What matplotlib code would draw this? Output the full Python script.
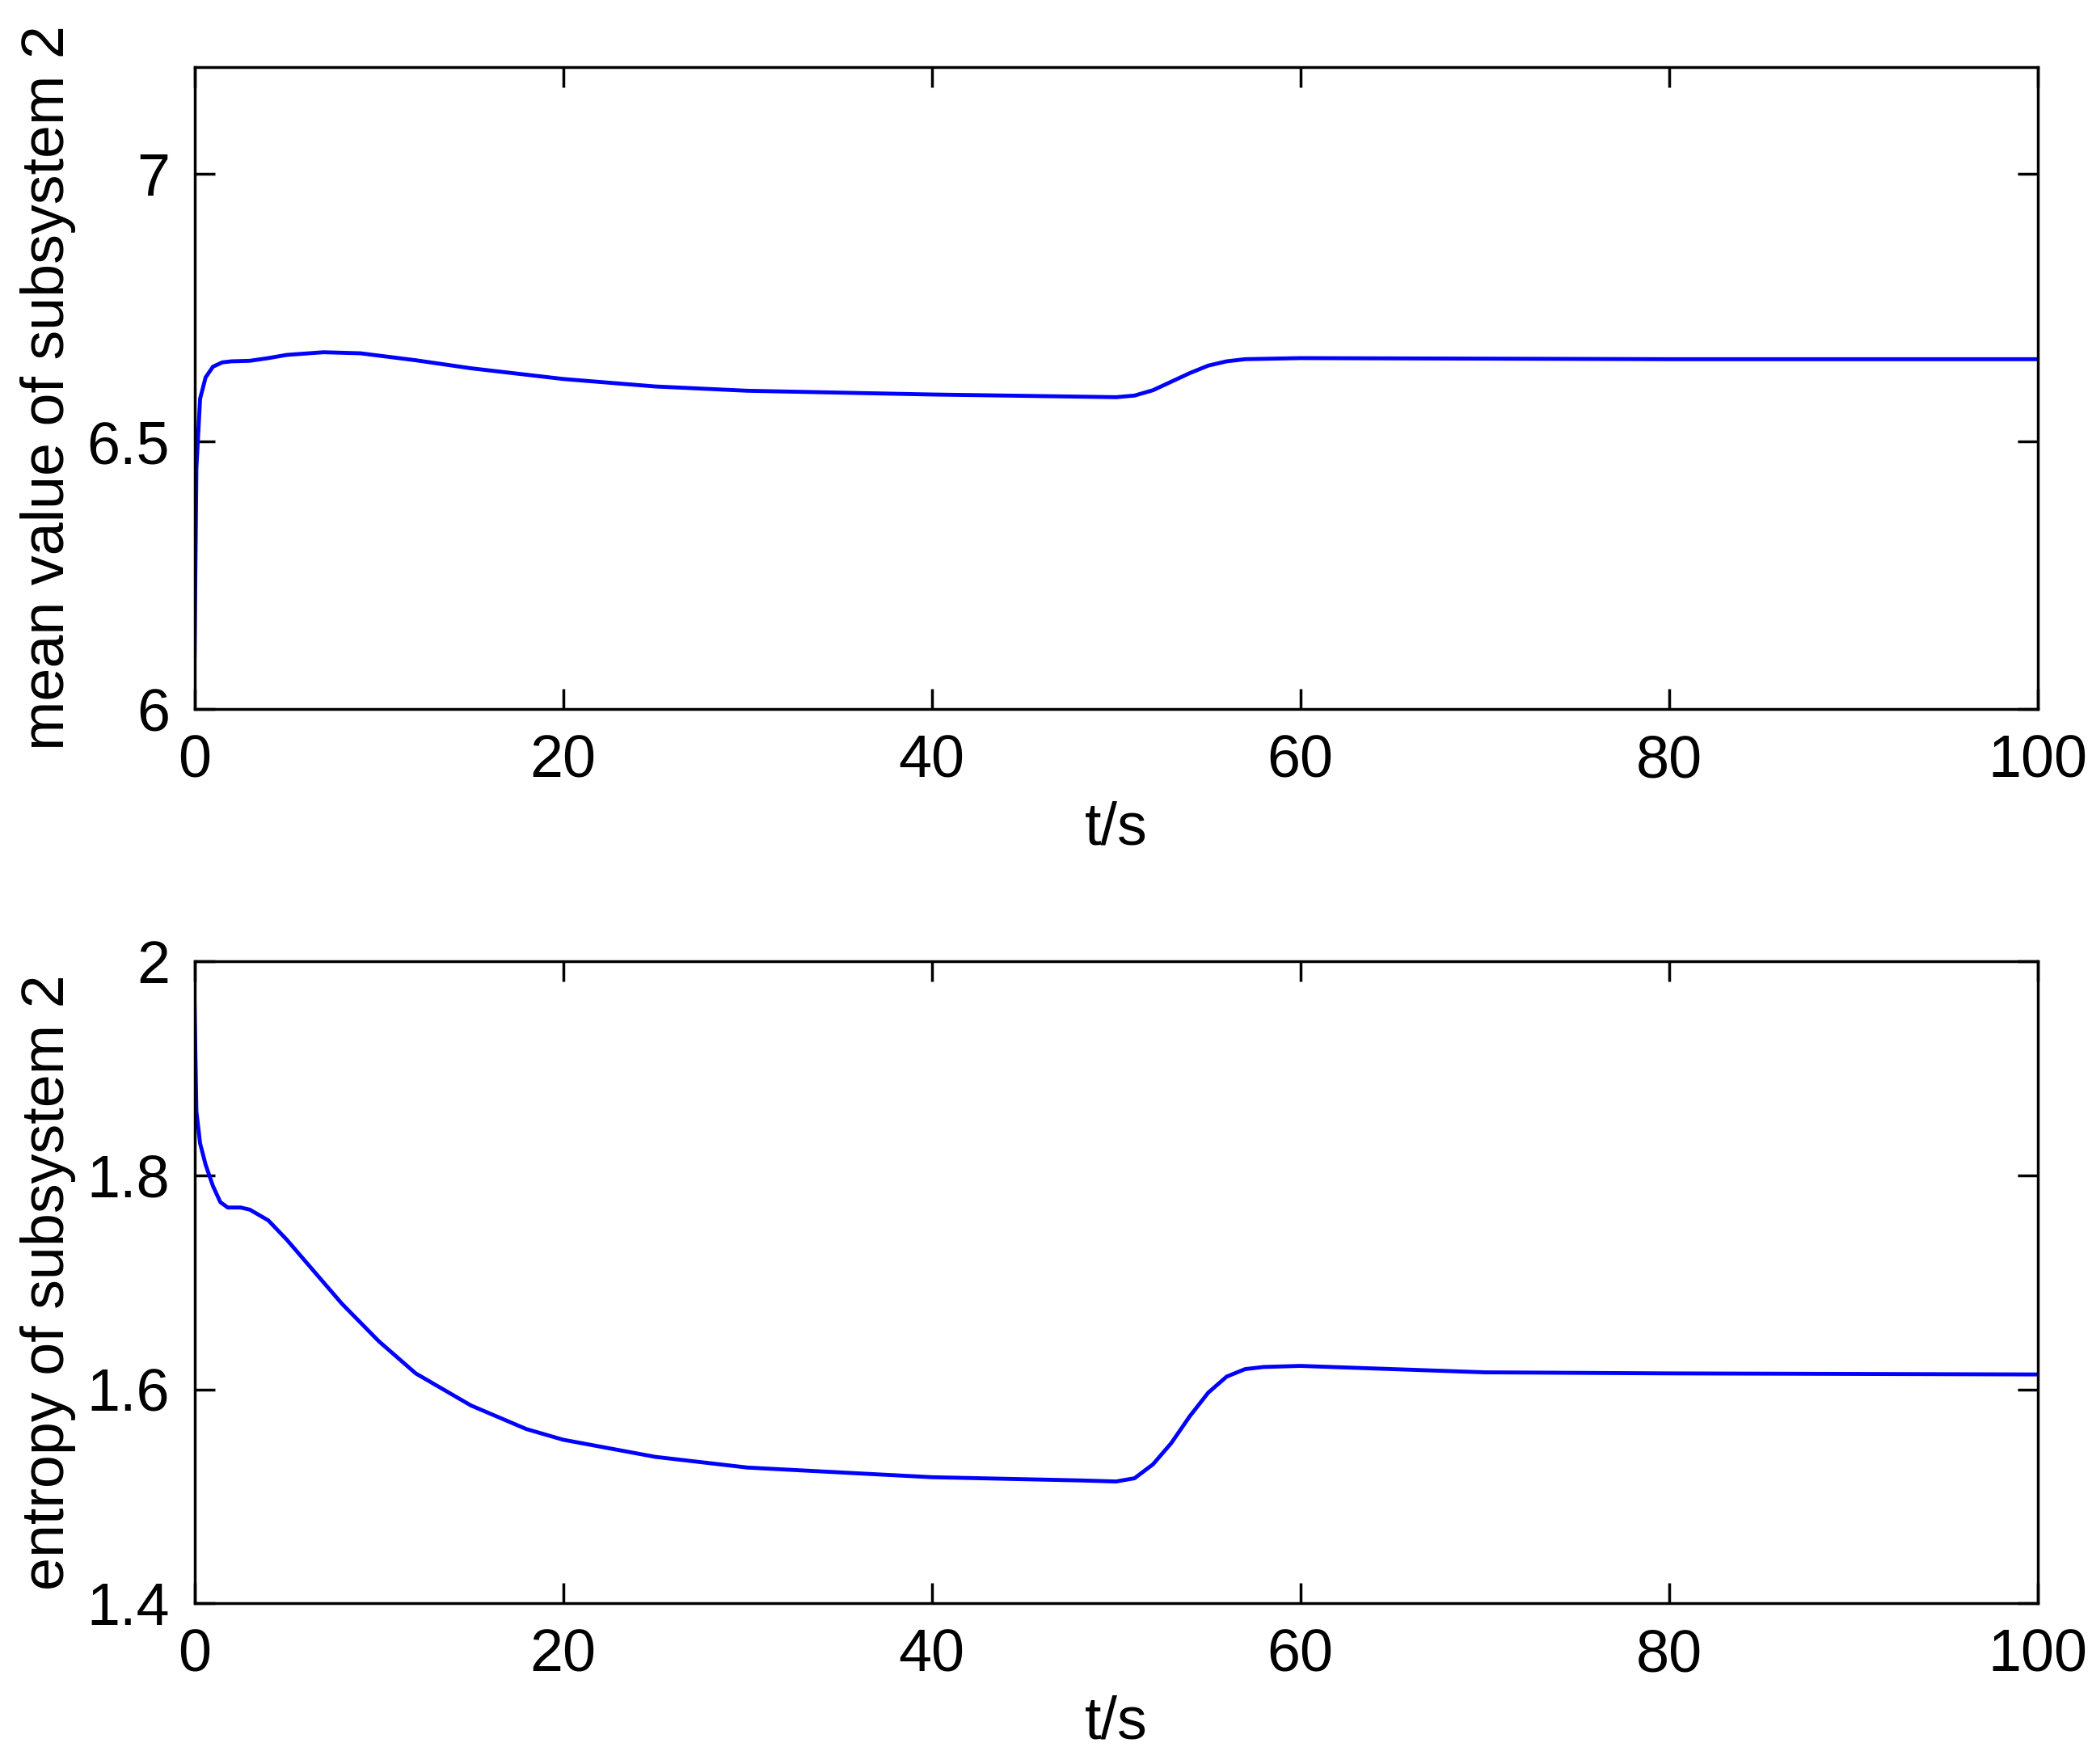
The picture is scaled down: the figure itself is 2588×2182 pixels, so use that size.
import matplotlib
matplotlib.use("Agg")
import matplotlib.pyplot as plt

t_mean = [0, 0.1, 0.3, 0.6, 1, 1.5, 2, 3, 4, 5, 7, 9, 12, 15, 20, 25, 30, 40, 48, 50, 51, 52, 53, 54, 55, 56, 57, 60, 70, 80, 100]
mean_vals = [6.1, 6.45, 6.58, 6.62, 6.64, 6.648, 6.65, 6.651, 6.656, 6.662, 6.667, 6.665, 6.652, 6.637, 6.617, 6.603, 6.595, 6.588, 6.584, 6.583, 6.586, 6.596, 6.612, 6.628, 6.642, 6.650, 6.654, 6.656, 6.655, 6.654, 6.654]
t_ent = [0, 0.1, 0.3, 0.6, 1, 1.4, 1.8, 2.5, 3, 4, 5, 6, 8, 10, 12, 15, 18, 20, 25, 30, 40, 48, 50, 51, 52, 53, 54, 55, 56, 57, 58, 60, 65, 70, 80, 100]
ent_vals = [1.96, 1.86, 1.83, 1.81, 1.79, 1.775, 1.770, 1.770, 1.768, 1.758, 1.740, 1.720, 1.680, 1.645, 1.615, 1.585, 1.563, 1.553, 1.537, 1.527, 1.518, 1.515, 1.514, 1.517, 1.530, 1.550, 1.575, 1.597, 1.612, 1.619, 1.621, 1.622, 1.619, 1.616, 1.615, 1.614]

plt.rcParams['font.family'] = ['Liberation Sans', 'DejaVu Sans']
fig = plt.figure(figsize=(25.88, 21.82), dpi=100)
ax1 = fig.add_axes([0.093, 0.598, 0.881, 0.364])
ax2 = fig.add_axes([0.093, 0.091, 0.881, 0.364])

for ax, t, v, yl, lims, ticks, labels in [
    (ax1, t_mean, mean_vals, 'mean value of subsystem 2', (6, 7.2), [6, 6.5, 7], ['6', '6.5', '7']),
    (ax2, t_ent, ent_vals, 'entropy of subsystem 2', (1.4, 2.0), [1.4, 1.6, 1.8, 2.0], ['1.4', '1.6', '1.8', '2']),
]:
    ax.plot(t, v, color='blue', lw=3.5)
    ax.set_xlim(0, 100)
    ax.set_ylim(*lims)
    ax.set_xticks([0, 20, 40, 60, 80, 100])
    ax.set_yticks(ticks)
    ax.set_yticklabels(labels)
    ax.tick_params(direction='in', top=True, right=True, length=18, width=2.5, labelsize=53, pad=22)
    for s in ax.spines.values():
        s.set_linewidth(2.5)
    ax.set_xlabel('t/s', fontsize=53, labelpad=10)
    ax.set_ylabel(yl, fontsize=53, labelpad=10)

fig.savefig('out.png', dpi=100, facecolor='white')
